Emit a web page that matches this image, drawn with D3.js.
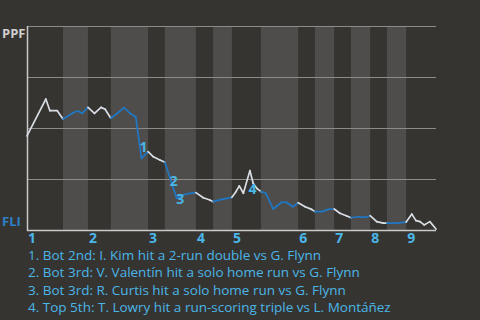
<!DOCTYPE html>
<html>
<head>
<meta charset="utf-8">
<script src="https://cdn.jsdelivr.net/npm/d3@7"></script>
<style>
  body { margin: 0; background: #363430; }
  svg { display: block; }
</style>
</head>
<body>
<div id="chart"></div>
<script>
// game progress (% of plays) where each half inning starts; last value closes the game
const halfStarts = [0, 8.8, 14.9, 20.5, 29.6, 33.7, 41.3, 45.5, 50.1, 57.2, 66.3, 70.4, 75.1, 79.2, 83.9, 88.0, 92.7, 100];
const innings = [1, 2, 3, 4, 5, 6, 7, 8, 9];

// PPF win probability after each play
const progress = [0, 4.6, 5.6, 7.4, 8.8, 11.3, 12.4, 13.5, 14.9, 16.5, 18.1, 19.1, 20.5, 22.3, 23.7, 25.2, 26.4, 26.6,
  28.0, 29.6, 30.9, 32.5, 33.7, 35.4, 36.6, 38.2, 39.9, 41.3, 43.1, 44.7, 45.5, 47.6, 50.1, 51.1, 51.9, 52.9, 54.5,
  55.3, 56.2, 57.2, 58.4, 60.2, 62.3, 63.5, 65.0, 66.3, 68.0, 69.6, 70.4, 72.1, 73.7, 75.1, 76.5, 78.2, 79.2, 81.0,
  82.2, 83.1, 83.9, 85.5, 87.1, 88.0, 90.4, 92.7, 94.1, 95.1, 96.1, 97.1, 98.5, 100];
const winProb = [0.461, 0.642, 0.585, 0.585, 0.544, 0.575, 0.583, 0.572, 0.601, 0.572, 0.601, 0.592, 0.548, 0.575, 0.600,
  0.572, 0.556, 0.553, 0.351, 0.384, 0.359, 0.343, 0.332, 0.229, 0.156, 0.172, 0.180, 0.183, 0.158, 0.147, 0.139, 0.150,
  0.160, 0.188, 0.216, 0.180, 0.291, 0.229, 0.204, 0.188, 0.180, 0.103, 0.136, 0.135, 0.114, 0.134, 0.114, 0.101, 0.090,
  0.090, 0.101, 0.103, 0.082, 0.069, 0.060, 0.065, 0.062, 0.065, 0.070, 0.041, 0.034, 0.034, 0.034, 0.039, 0.078, 0.046,
  0.041, 0.025, 0.041, 0.005];

// key plays: index into the play arrays
const keyPlays = [18, 23, 24, 36];
const keyTexts = [
  "Bot 2nd: I. Kim hit a 2-run double vs G. Flynn",
  "Bot 3rd: V. Valentín hit a solo home run vs G. Flynn",
  "Bot 3rd: R. Curtis hit a solo home run vs G. Flynn",
  "Top 5th: T. Lowry hit a run-scoring triple vs L. Montáñez",
];
const keyOffsets = [[2, -12], [2, -3], [3.5, 0], [2.5, 18]];

const awayTeam = "PPF";
const homeTeam = "FLI";

const width = 480;
const height = 320;
const margin = { top: 26, right: 44, bottom: 90, left: 27 };

const bg = "#363430";
const shade = "#4f4d4b";
const white = "#d8dee4";
const blue = "#1f78c6";
const lightBlue = "#4ab6e8";
const font = "'Open Sans', sans-serif";

const x = d3.scaleLinear().domain([0, 100]).range([margin.left, width - margin.right]);
const y = d3.scaleLinear().domain([0, 1]).range([height - margin.bottom, margin.top]);

const svg = d3.select("#chart").append("svg")
  .attr("width", width)
  .attr("height", height)
  .style("background", bg);

// half-inning bands, bottom halves shaded
const halves = halfStarts.slice(0, -1).map((s, i) => ({ start: s, end: halfStarts[i + 1], bottom: i % 2 === 1 }));
svg.append("g")
  .selectAll("rect")
  .data(halves.filter((d) => d.bottom))
  .join("rect")
  .attr("x", (d) => x(d.start))
  .attr("y", y(1))
  .attr("width", (d) => x(d.end) - x(d.start))
  .attr("height", y(0) - y(1))
  .attr("fill", shade);

// grid
svg.append("g")
  .selectAll("line")
  .data([0.25, 0.5, 0.75, 1])
  .join("line")
  .attr("x1", x(0))
  .attr("x2", x(100))
  .attr("y1", (d) => y(d) + 0.5)
  .attr("y2", (d) => y(d) + 0.5)
  .attr("stroke", "#8d8b88")
  .attr("stroke-width", 1.2);

// axes
svg.append("line")
  .attr("x1", x(0) + 0.5).attr("x2", x(0) + 0.5)
  .attr("y1", y(1)).attr("y2", y(0) + 1)
  .attr("stroke", "#c9c9c9").attr("stroke-width", 1.5);
svg.append("line")
  .attr("x1", x(0)).attr("x2", x(100))
  .attr("y1", y(0) + 0.5).attr("y2", y(0) + 0.5)
  .attr("stroke", "#c9c9c9").attr("stroke-width", 1.5);

// line segments, coloured by batting team
const plays = progress.map((p, i) => ({ p, v: winProb[i] }));
const isBottom = (p) => {
  const idx = d3.bisectRight(halfStarts, p) - 1;
  return idx % 2 === 1;
};
const segments = plays.slice(0, -1).map((d, i) => ({ a: d, b: plays[i + 1] }));
svg.append("g")
  .selectAll("line")
  .data(segments)
  .join("line")
  .attr("x1", (d) => x(d.a.p))
  .attr("y1", (d) => y(d.a.v))
  .attr("x2", (d) => x(d.b.p))
  .attr("y2", (d) => y(d.b.v))
  .attr("stroke", (d) => (isBottom(d.a.p) ? blue : white))
  .attr("stroke-width", 1.7)
  .attr("stroke-linecap", "round");

// team labels
svg.append("text")
  .attr("x", 2).attr("y", y(1) + 11.5)
  .attr("fill", "#cfcfcf")
  .style("font", `bold 13px ${font}`)
  .text(awayTeam);
svg.append("text")
  .attr("x", 2).attr("y", y(0) - 4.5)
  .attr("fill", "#2c80c9")
  .style("font", `bold 13px ${font}`)
  .text(homeTeam);

// inning labels
svg.append("g")
  .selectAll("text")
  .data(innings)
  .join("text")
  .attr("x", (d, i) => x(halfStarts[i * 2]) + 1)
  .attr("y", y(0) + 13)
  .attr("fill", lightBlue)
  .style("font", `bold 14px ${font}`)
  .text((d) => d);

// key play markers
svg.append("g")
  .selectAll("text")
  .data(keyPlays)
  .join("text")
  .attr("x", (d, i) => x(progress[d]) + keyOffsets[i][0])
  .attr("y", (d, i) => y(winProb[d]) + keyOffsets[i][1])
  .attr("text-anchor", "middle")
  .attr("dominant-baseline", "central")
  .attr("fill", lightBlue)
  .style("font", `bold 14px ${font}`)
  .text((d, i) => i + 1);

// key play list
svg.append("g")
  .selectAll("text")
  .data(keyTexts)
  .join("text")
  .attr("x", 28)
  .attr("y", (d, i) => 259.5 + i * 17.6)
  .attr("fill", lightBlue)
  .style("font", `13.5px ${font}`)
  .text((d, i) => `${i + 1}. ${d}`);
</script>
</body>
</html>
